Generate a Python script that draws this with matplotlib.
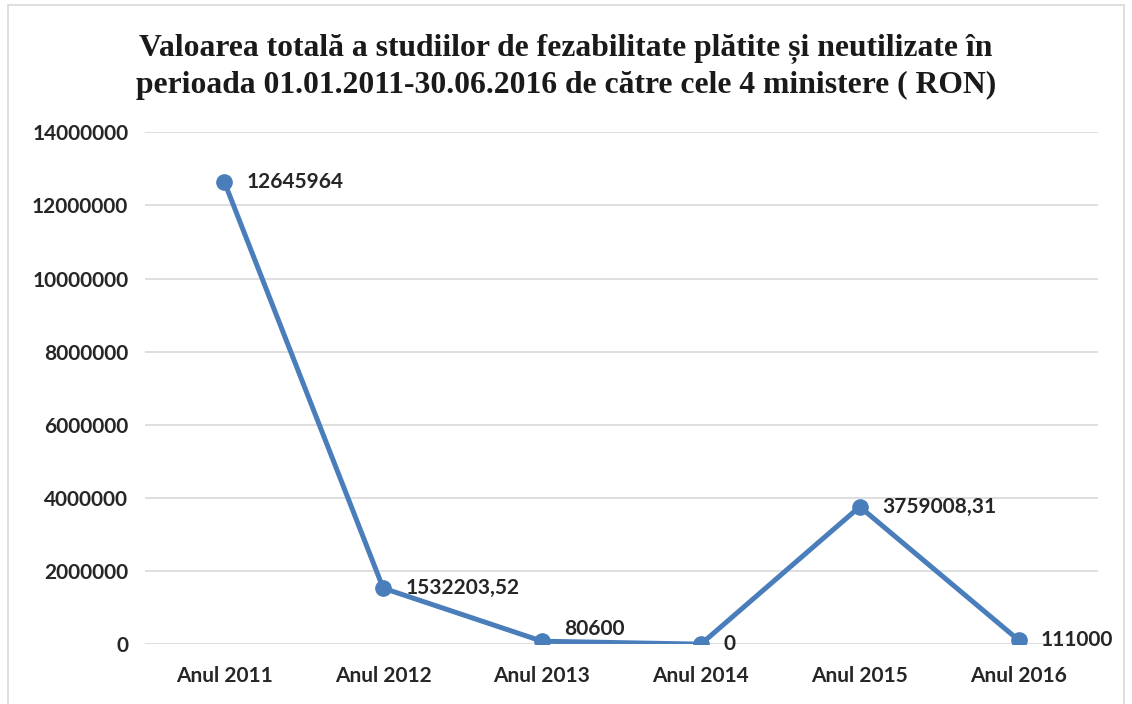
import matplotlib
matplotlib.use("Agg")
import matplotlib.pyplot as plt
from matplotlib.patches import Rectangle

categories = ["Anul 2011", "Anul 2012", "Anul 2013", "Anul 2014", "Anul 2015", "Anul 2016"]
values = [12645964, 1532203.52, 80600, 0, 3759008.31, 111000]
labels = ["12645964", "1532203,52", "80600", "0", "3759008,31", "111000"]
label_dy = [0, 0, 9, 0, 0, 0]  # 80600 sits a little above its point
yticks = [0, 2000000, 4000000, 6000000, 8000000, 10000000, 12000000, 14000000]

BLUE = "#4a7ebb"
LBL = "#262626"
plt.rcParams["font.family"] = ["Lato", "DejaVu Sans"]

fig = plt.figure(figsize=(11.32, 7.04), dpi=100)
ax = fig.add_axes([0.128, 0.085, 0.842, 0.727])

x = range(len(categories))
ax.plot(x, values, color=BLUE, lw=3.6, marker="o", ms=11, zorder=3,
        solid_capstyle="round")
for xi, v, t, dy in zip(x, values, labels, label_dy):
    ax.annotate(t, (xi, v), xytext=(16, dy), textcoords="offset points",
                ha="left", va="center", fontsize=15, fontweight="bold", color=LBL)

ax.set_xlim(-0.5, 5.5)
ax.set_ylim(0, 14000000)
ax.set_xticks(list(x))
ax.set_xticklabels(categories)
ax.set_yticks(yticks)
ax.set_yticklabels([str(t) for t in yticks])
for lab in ax.get_xticklabels() + ax.get_yticklabels():
    lab.set_fontsize(15)
    lab.set_fontweight("bold")
    lab.set_color(LBL)
ax.tick_params(length=0, axis="x", pad=16)
ax.tick_params(length=0, axis="y", pad=12)
ax.grid(axis="y", color="#d9d9d9", lw=1.2)
ax.set_axisbelow(True)
for s in ax.spines.values():
    s.set_visible(False)

fig.text(0.5, 0.905, "Valoarea totală a studiilor de fezabilitate plătite și neutilizate în\n"
         "perioada 01.01.2011-30.06.2016 de către cele 4 ministere ( RON)",
         ha="center", va="center", fontsize=22.8, fontweight="bold",
         family=["Liberation Serif", "DejaVu Serif"], linespacing=1.3, color="#1a1a1a")

fig.patches.append(Rectangle((8 / 1132, -0.01), 1116 / 1132, 1 - 5 / 704 + 0.01,
                             transform=fig.transFigure, fill=False,
                             edgecolor="#d9d9d9", lw=1.2))

fig.savefig("out.png", dpi=100)
